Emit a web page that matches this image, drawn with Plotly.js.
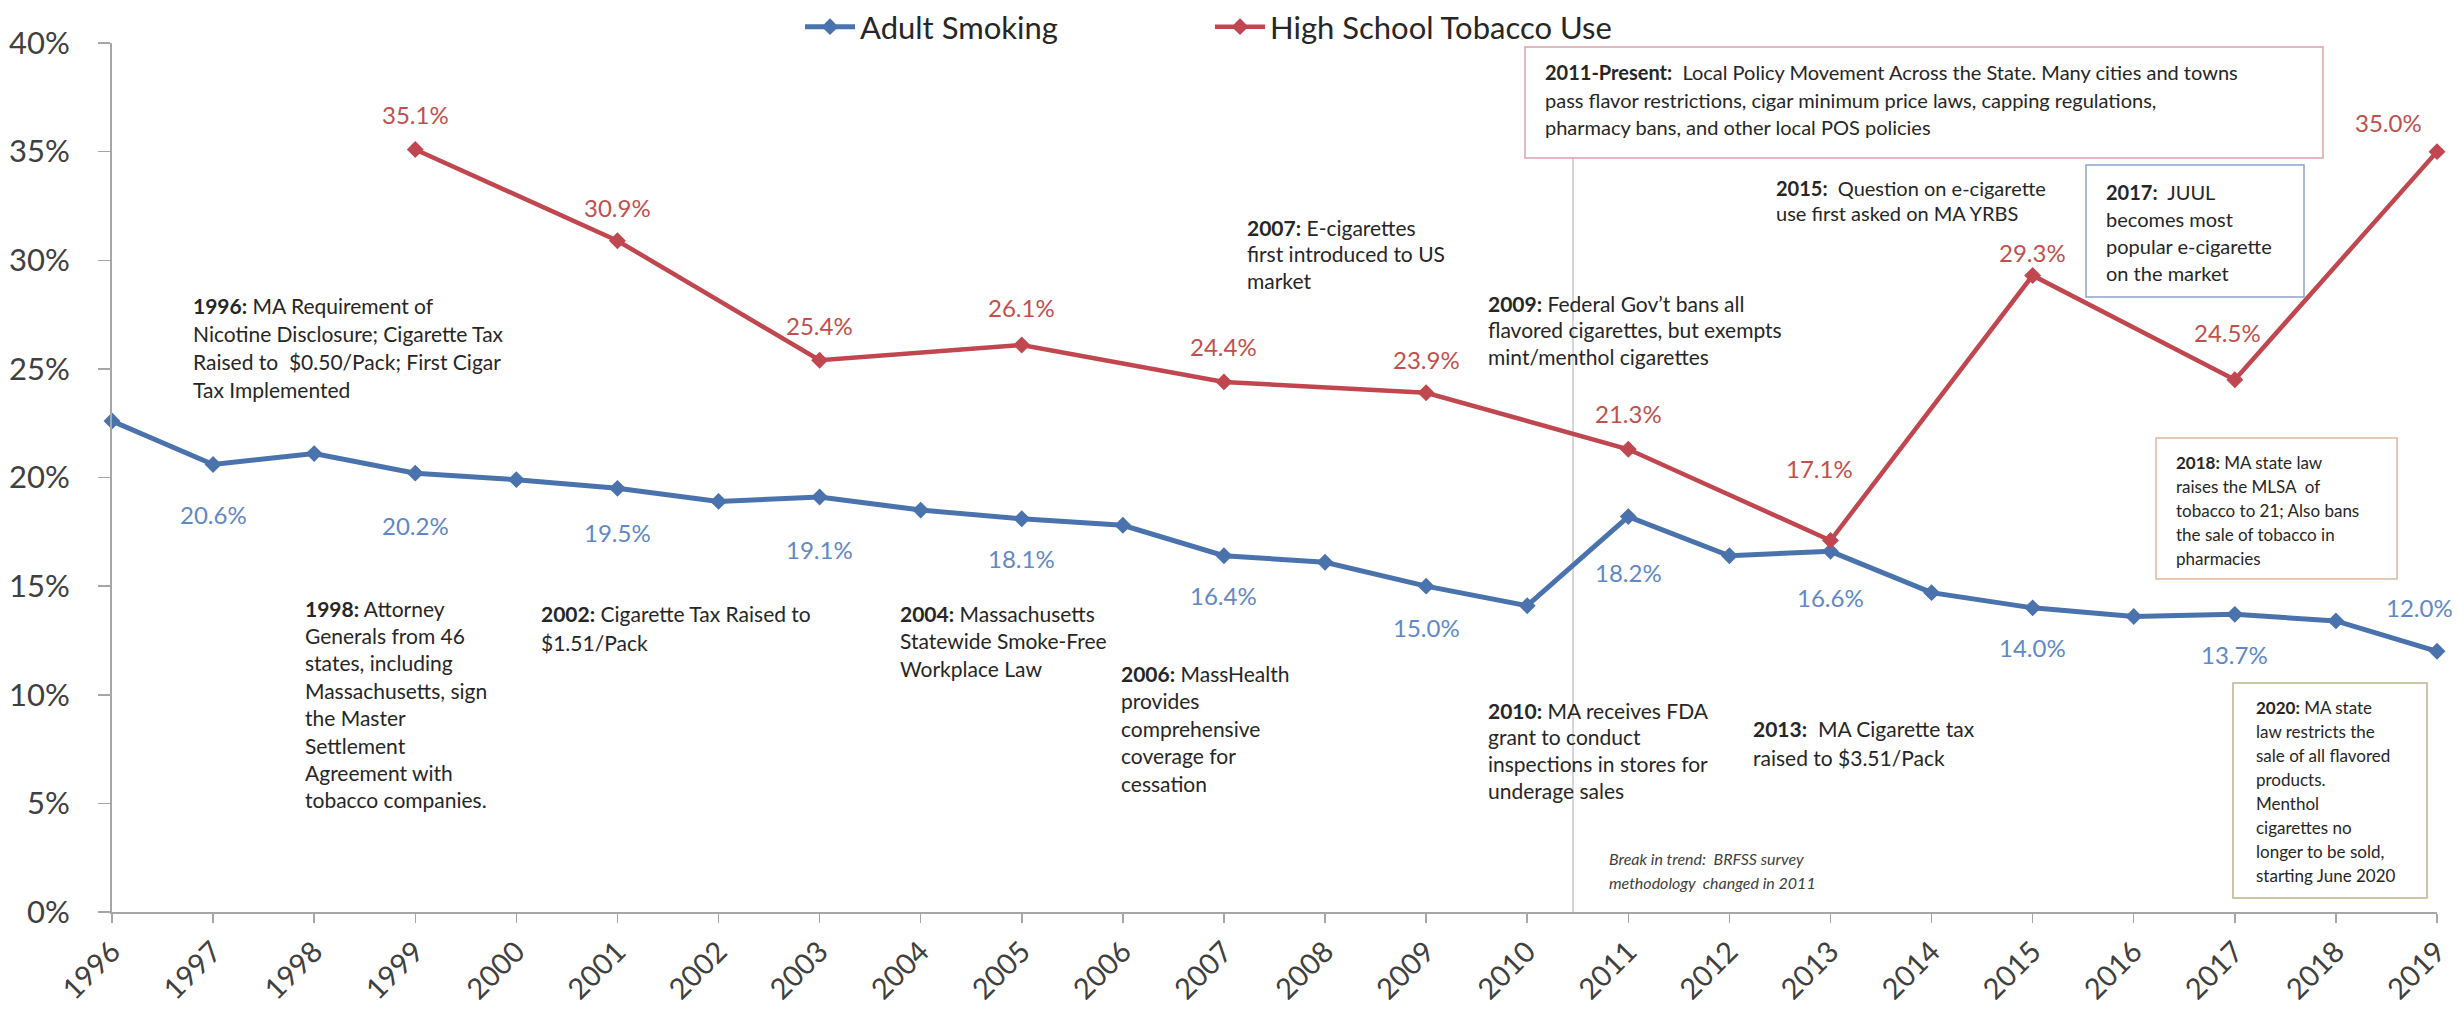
<!DOCTYPE html>
<html>
<head>
<meta charset="utf-8">
<script src="https://cdn.plot.ly/plotly-3.0.1.min.js"></script>
<style>html,body{margin:0;padding:0;background:#fff;}#chart{width:2459px;height:1011px;}</style>
</head>
<body>
<div id="chart"></div>
<script>
// ---------- data ----------
const years = [1996,1997,1998,1999,2000,2001,2002,2003,2004,2005,2006,2007,2008,2009,2010,2011,2012,2013,2014,2015,2016,2017,2018,2019];
const adultSmoking = [22.6,20.6,21.1,20.2,19.9,19.5,18.9,19.1,18.5,18.1,17.8,16.4,16.1,15.0,14.1,18.2,16.4,16.6,14.7,14.0,13.6,13.7,13.4,12.0];
const hsYears = [1999,2001,2003,2005,2007,2009,2011,2013,2015,2017,2019];
const hsTobacco = [35.1,30.9,25.4,26.1,24.4,23.9,21.3,17.1,29.3,24.5,35.0];
const adultLabelYears = [1997,1999,2001,2003,2005,2007,2009,2011,2013,2015,2017,2019];
const yTicks = [0,5,10,15,20,25,30,35,40];
const seriesNames = ["Adult Smoking","High School Tobacco Use"];

// ---------- geometry helpers (plot area in pixels) ----------
const W = 2459, H = 1011;
const L = 112, R = 2437, T = 43, B = 912;
const PW = R - L, PH = B - T;
const X0 = years[0], X1 = years[years.length-1];
function px2x(px){ return X0 + (px - L) / PW * (X1 - X0); }
function py2y(py){ return 40 * (1 - (py - T) / PH); }

const FONT = 'Lato, "Open Sans", "Liberation Sans", sans-serif';
const adultColor = '#4a72ad', hsColor = '#c0474f';
const adultLabelColor = '#5f88c6', hsLabelColor = '#c0504d';
const textColor = '#262626';

const traces = [
  {x: years, y: adultSmoking, name: seriesNames[0], type: 'scatter', mode: 'lines+markers',
   line: {color: adultColor, width: 5}, marker: {symbol: 'diamond', size: 13, color: adultColor},
   cliponaxis: false, hoverinfo: 'skip'},
  {x: hsYears, y: hsTobacco, name: seriesNames[1], type: 'scatter', mode: 'lines+markers',
   line: {color: hsColor, width: 4.5}, marker: {symbol: 'diamond', size: 13, color: hsColor},
   cliponaxis: false, hoverinfo: 'skip'}
];

const annotations = [];
// adult labels (pixel offsets below the point; negative = above)
const adultShift = {1997:50,1999:52,2001:44,2003:52,2005:40,2007:40,2009:41,2011:56,2013:46,2015:40,2017:40,2019:-44};
const adultXShift = {2019:-18};
adultLabelYears.forEach(function(yr){
  const v = adultSmoking[years.indexOf(yr)];
  annotations.push({x: yr, y: v, xref: 'x', yref: 'y', text: v.toFixed(1) + '%', showarrow: false,
    yshift: -adultShift[yr], xshift: adultXShift[yr] || 0, xanchor: 'center', yanchor: 'middle',
    font: {family: FONT, size: 24, color: adultLabelColor}});
});
// high-school labels (pixel offsets above the point)
const hsShift = {1999:35,2001:33,2003:35,2005:37,2007:35,2009:33,2011:36,2013:72,2015:23,2017:47,2019:29};
const hsXShift = {2013:-11,2017:-7,2019:-49};
hsYears.forEach(function(yr, i){
  const v = hsTobacco[i];
  annotations.push({x: yr, y: v, xref: 'x', yref: 'y', text: v.toFixed(1) + '%', showarrow: false,
    yshift: hsShift[yr], xshift: hsXShift[yr] || 0, xanchor: 'center', yanchor: 'middle',
    font: {family: FONT, size: 24, color: hsLabelColor}});
});

// event notes
const notes = [
  {left:191, top:305, gap:28, size:21, lines:['<b>1996:</b> MA Requirement of','Nicotine Disclosure; Cigarette Tax','Raised to  $0.50/Pack; First Cigar','Tax Implemented']},
  {left:303, top:608, gap:27.4, size:21, lines:['<b>1998:</b> Attorney','Generals from 46','states, including','Massachusetts, sign','the Master','Settlement','Agreement with','tobacco companies.']},
  {left:539, top:613, gap:29, size:21, lines:['<b>2002:</b> Cigarette Tax Raised to','$1.51/Pack']},
  {left:898, top:613, gap:27.5, size:21, lines:['<b>2004:</b> Massachusetts','Statewide Smoke-Free','Workplace Law']},
  {left:1119, top:673, gap:27.5, size:21, lines:['<b>2006:</b> MassHealth','provides','comprehensive','coverage for','cessation']},
  {left:1245, top:227, gap:26.5, size:21, lines:['<b>2007:</b> E-cigarettes','first introduced to US','market']},
  {left:1486, top:303, gap:26.5, size:21, lines:['<b>2009:</b> Federal Gov\u2019t bans all','flavored cigarettes, but exempts','mint/menthol cigarettes']},
  {left:1486, top:710, gap:26.7, size:21, lines:['<b>2010:</b> MA receives FDA','grant to conduct','inspections in stores for','underage sales']},
  {left:1543, top:72, gap:27.5, size:20, lines:['<b>2011-Present:</b>  Local Policy Movement Across the State. Many cities and towns','pass flavor restrictions, cigar minimum price laws, capping regulations,','pharmacy bans, and other local POS policies']},
  {left:1751, top:728, gap:29, size:21, lines:['<b>2013:</b>  MA Cigarette tax','raised to $3.51/Pack']},
  {left:1774, top:188, gap:25, size:20, lines:['<b>2015:</b>  Question on e-cigarette','use first asked on MA YRBS']},
  {left:2104, top:192, gap:27, size:20, lines:['<b>2017:</b>  JUUL','becomes most','popular e-cigarette','on the market']},
  {left:2174, top:462, gap:24, size:17, lines:['<b>2018:</b> MA state law','raises the MLSA  of','tobacco to 21; Also bans','the sale of tobacco in','pharmacies']},
  {left:2254, top:707, gap:24, size:17, lines:['<b>2020:</b> MA state','law restricts the','sale of all flavored','products.','Menthol','cigarettes no','longer to be sold,','starting June 2020']},
  {left:1607, top:858, gap:24, size:16, italic:true, lines:['Break in trend:  BRFSS survey','methodology  changed in 2011']}
];
notes.forEach(function(n){
  n.lines.forEach(function(t, k){
    annotations.push({x: px2x(n.left), y: py2y(n.top + k*n.gap), xref: 'x', yref: 'y',
      text: n.italic ? '<i>' + t + '</i>' : t, showarrow: false, xanchor: 'left', yanchor: 'middle',
      font: {family: FONT, size: n.size, color: n.italic ? '#404040' : textColor}});
  });
});

// boxes and break line
function rect(x0,y0,x1,y1,color){
  return {type:'rect', xref:'x', yref:'y', x0:px2x(x0), x1:px2x(x1), y0:py2y(y0), y1:py2y(y1),
          line:{color:color, width:1.5}, fillcolor:'rgba(0,0,0,0)', layer:'above'};
}
const shapes = [
  {type:'line', xref:'x', yref:'y', x0:px2x(1573), x1:px2x(1573), y0:py2y(158), y1:py2y(925),
   line:{color:'#c8c8c8', width:1.5}, layer:'below'},
  rect(1525,47,2323,158,'#d9a3aa'),
  rect(2086,165,2304,297,'#8ea3c6'),
  rect(2156,438,2397,579,'#e0b79c'),
  rect(2233,683,2427,898,'#b9b48c')
];

const layout = {
  width: W, height: H,
  margin: {l: L, r: W - R, t: T, b: H - B, pad: 0, autoexpand: false},
  paper_bgcolor: '#ffffff', plot_bgcolor: '#ffffff',
  font: {family: FONT, color: textColor},
  showlegend: true,
  legend: {orientation: 'h', x: (800 - L) / PW, xanchor: 'left', yref: 'container', y: 1, yanchor: 'top',
           font: {family: FONT, size: 31, color: textColor}, itemwidth: 50, bgcolor: 'rgba(0,0,0,0)',
           entrywidth: 345, entrywidthmode: 'pixels'},
  xaxis: {range: [X0, X1], tickvals: years, ticktext: years.map(String), tickangle: -45,
          tickfont: {family: FONT, size: 29, color: '#404040'}, ticks: 'outside', ticklen: 9,
          tickcolor: '#a6a6a6', tickwidth: 1.5, showline: true, linecolor: '#a6a6a6', linewidth: 2,
          showgrid: false, zeroline: false, fixedrange: true, automargin: false},
  yaxis: {range: [0, 40], tickvals: yTicks, ticktext: yTicks.map(function(v){return v + '%';}),
          tickfont: {family: FONT, size: 31, color: '#404040'}, ticks: 'outside', ticklen: 12,
          tickcolor: '#a6a6a6', tickwidth: 1.5, showline: true, linecolor: '#a6a6a6', linewidth: 2,
          showgrid: false, zeroline: false, ticklabelstandoff: 22, fixedrange: true, automargin: false},
  annotations: annotations,
  shapes: shapes
};

Plotly.newPlot('chart', traces, layout, {displayModeBar: false, staticPlot: true});
</script>
</body>
</html>
